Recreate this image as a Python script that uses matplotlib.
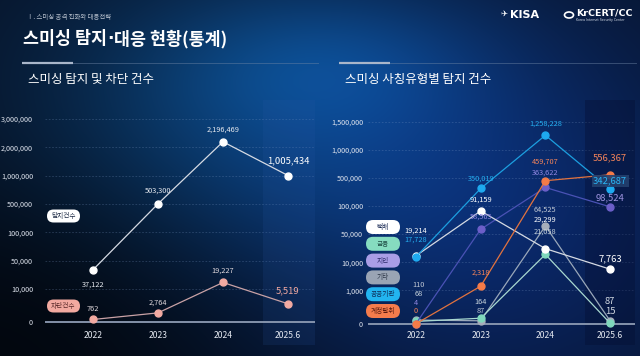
import numpy as np
import matplotlib
matplotlib.use('Agg')
import matplotlib.pyplot as plt
from matplotlib.patches import FancyBboxPatch

plt.rcParams['font.family'] = ['Noto Sans CJK KR', 'DejaVu Sans']

# ---------------- data ----------------
years = ['2022', '2023', '2024', '2025.6']

left_ticks = [0, 10000, 50000, 100000, 500000, 1000000, 2000000, 3000000]
left_series = ['탐지건수', '차단건수']
detect = [37122, 503300, 2196469, 1005434]
block = [762, 2764, 19227, 5519]

right_ticks = [0, 1000, 10000, 50000, 100000, 500000, 1000000, 1500000]
types = ['택배', '금융', '지인', '기타', '공공기관', '계정탈취']
parcel = [19214, 91159, 29299, 7763]
finance = [68, 164, 21058, 15]
acquaint = [4, 58565, 363622, 98524]
etc = [110, 87, 64525, 87]
public = [17728, 350019, 1258228, 342687]
account = [0, 2318, 459707, 556367]

W, H = 640, 356
fig = plt.figure(figsize=(W / 100, H / 100), dpi=100)


def fx(x):
    return x / W


def fy(y):
    return 1 - y / H


# ---------------- background ----------------
yy, xx = np.mgrid[0:H, 0:W].astype(float)
img = np.ones((H, W, 3)) * np.array([7, 19, 40], float)


def blob(cx, cy, sx, sy, col):
    g = np.exp(-(((xx - cx) / sx) ** 2 + ((yy - cy) / sy) ** 2) / 2)
    return g[..., None] * np.array(col, float)


img += blob(250, 130, 160, 110, [4, 42, 68])
img += blob(480, 210, 180, 150, [3, 18, 62])
img += blob(330, 60, 110, 50, [2, 22, 36])
dark = np.exp(-(((xx - 0) / 210) ** 2 + ((yy - 356) / 140) ** 2) / 2)
img *= (1 - 0.65 * dark[..., None])
img = np.clip(img / 255, 0, 1)

bg = fig.add_axes([0, 0, 1, 1], zorder=-10)
bg.imshow(img, extent=[0, W, 0, H], aspect='auto', origin='upper')
bg.set_xlim(0, W)
bg.set_ylim(0, H)
bg.axis('off')


# ---------------- piecewise scale ----------------
def piecewise(ticks, first_gap):
    t = np.array(ticks, float)
    u = np.concatenate([[0.0, first_gap], first_gap + np.arange(1, len(t) - 1)])

    def fwd(v):
        v = np.asarray(v, float)
        out = np.interp(v, t, u)
        out = np.where(v < t[0], u[0] + (v - t[0]) * (u[1] - u[0]) / (t[1] - t[0]), out)
        out = np.where(v > t[-1], u[-1] + (v - t[-1]) * (u[-1] - u[-2]) / (t[-1] - t[-2]), out)
        return out

    def inv(x):
        x = np.asarray(x, float)
        out = np.interp(x, u, t)
        out = np.where(x < u[0], t[0] + (x - u[0]) * (t[1] - t[0]) / (u[1] - u[0]), out)
        out = np.where(x > u[-1], t[-1] + (x - u[-1]) * (t[-1] - t[-2]) / (u[-1] - u[-2]), out)
        return out

    return fwd, inv, u


def make_axes(x0, x1, xfirst, xstep, ticks, first_gap, y0pix, ytoppix, ypad):
    top, bot = 100, 345
    ax = fig.add_axes([fx(x0), fy(bot), fx(x1) - fx(x0), (bot - top) / H], zorder=1)
    ax.set_facecolor('none')
    fwd, inv, u = piecewise(ticks, first_gap)
    ax.set_yscale('function', functions=(fwd, inv))
    ppu = (y0pix - ytoppix) / u[-1]
    ax.set_ylim(float(inv(-(bot - y0pix) / ppu)), float(inv(u[-1] + (ytoppix - top) / ppu)))
    ax.set_xlim((x0 - xfirst) / xstep, (x1 - xfirst) / xstep)
    ax.set_yticks(ticks)
    ax.set_yticklabels([f"{t:,}" for t in ticks])
    ax.set_xticks(range(len(years)))
    ax.set_xticklabels(years)
    ax.tick_params(axis='y', length=0, pad=ypad, labelsize=5.2, labelcolor='#dfe4ee')
    ax.tick_params(axis='x', length=0, pad=-9.8, labelsize=6.2, labelcolor='#e4e8f0')
    for s in ax.spines.values():
        s.set_visible(False)
    for t in ticks[1:]:
        ax.axhline(t, color='#7f9cc8', lw=0.6, ls=(0, (2, 2)), alpha=0.3, zorder=0)
    ax.axhline(0, color='#8e9cb4', lw=1.3, zorder=1)
    return ax


MS = 5

# ---------------- left chart ----------------
axl = make_axes(45, 315, 93, 65, left_ticks, 33 / 28.33, 322, 119, 8.6)
axl.axvspan(2.615, 3.5, color='#2a5aa8', alpha=0.15, lw=0, zorder=0)
x = np.arange(len(years))
axl.plot(x, detect, color='#d6dbe4', lw=0.9, marker='o', ms=MS, mfc='white', mec='white', zorder=3)
axl.plot(x, block, color='#c9a2a6', lw=0.9, marker='o', ms=MS, mfc='#f2aaa2', mec='#f2aaa2', zorder=3)

det_off = [-15, 13, 12, 15]
blk_off = [10, 10, 12, 13]
for i, v in enumerate(detect):
    big = i == len(years) - 1
    axl.annotate(f"{v:,}", (i, v), xytext=(0, det_off[i] * 0.72), textcoords='offset points',
                 ha='center', va='center', fontsize=6.8 if big else 5.3,
                 color='white' if big else '#e6e9ef', zorder=4)
for i, v in enumerate(block):
    big = i == len(years) - 1
    axl.annotate(f"{v:,}", (i, v), xytext=(0, blk_off[i] * 0.72), textcoords='offset points',
                 ha='center', va='center', fontsize=6.8 if big else 5.3,
                 color='#f2a9a0' if big else '#e0d8dc', zorder=4)

# ---------------- right chart ----------------
axr = make_axes(368, 635, 416, 64.7, right_ticks, 33.4 / 28.1, 323.7, 121.7, 3.6)
axr.axvspan(2.61, 3.5, color='#050d30', alpha=0.35, lw=0, zorder=0)

right_data = [parcel, finance, acquaint, etc, public, account]
marker_c = ['#ffffff', '#7fd8bc', '#6c5fc9', '#a6aebb', '#1eaaf0', '#f47b48']
line_c = ['#d5dae3', '#a8d8d0', '#4a52b5', '#9aa8ba', '#1c9fe0', '#e2733f']
text_c = ['#ffffff', '#c8d4dc', '#8f86e0', '#c0c8d4', '#25aef0', '#f4845a']
big_c = ['#ffffff', '#cfd6e0', '#9d93e0', '#cfd6e0', '#2ab4f4', '#f4845a']
offsets = [[25, 11, 29, 10],
           [27, 16, 23, 12],
           [21, 13, 15, 9],
           [35, 10, 16, 19],
           [17, 10, 12, 8],
           [13, 14, 19, 17]]
dxs = [[0, 0, 0, 0], [3, 0, 0, 0], [0, 0, 0, 0], [3, 0, 0, 0], [0, 0, 0, 0], [0, 0, 0, 0]]
order = [3, 1, 2, 0, 4, 5]
for k in order:
    vals = right_data[k]
    axr.plot(x, vals, color=line_c[k], lw=0.9, marker='o', ms=MS, mfc=marker_c[k],
             mec=marker_c[k], zorder=3)
for k in order:
    vals = right_data[k]
    for i, v in enumerate(vals):
        big = i == len(years) - 1
        bbox = None
        if big and k == 4:
            bbox = dict(boxstyle='square,pad=0.15', fc='#23406e', ec='none', alpha=0.9)
        axr.annotate(f"{v:,}", (i, v), xytext=(dxs[k][i] * 0.72, offsets[k][i] * 0.72),
                     textcoords='offset points', ha='center', va='center',
                     fontsize=6.8 if big else 5.3, color=big_c[k] if big else text_c[k],
                     bbox=bbox, zorder=4)

# ---------------- overlay: titles, pills ----------------
ov = fig.add_axes([0, 0, 1, 1], zorder=5)
ov.set_facecolor('none')
ov.set_xlim(0, W)
ov.set_ylim(0, H)
ov.axis('off')


def Y(y):
    return H - y


ov.text(27, Y(17), 'Ⅰ. 스미싱 공격 진화와 대응전략', fontsize=4.6, color='#b9c2cf', va='center', ha='left')
t1 = ov.text(23, Y(39), '스미싱 탐지', fontsize=12.5, fontweight='bold', color='white',
             va='center', ha='left')
t2 = ov.annotate('·', xy=(1, 0.5), xycoords=t1, xytext=(0.3, 0), textcoords='offset points',
                 fontsize=12.5, fontweight='bold', color='white', va='center', ha='left',
                 family=['DejaVu Sans'])
ov.annotate('대응 현황(통계)', xy=(1, 0.5), xycoords=t2, xytext=(0.3, 0), textcoords='offset points',
            fontsize=12.5, fontweight='bold', color='white', va='center', ha='left')
ov.plot([22, 318], [Y(63), Y(63)], color='#6f86a6', lw=0.7, alpha=0.45)
ov.plot([339, 636], [Y(63), Y(63)], color='#6f86a6', lw=0.7, alpha=0.45)
ov.plot([22, 73], [Y(63), Y(63)], color='#a9b6ca', lw=1.6, solid_capstyle='butt')
ov.plot([339, 390], [Y(63), Y(63)], color='#a9b6ca', lw=1.6, solid_capstyle='butt')
ov.text(28, Y(79), '스미싱 탐지 및 차단 건수', fontsize=9, color='white', va='center', ha='left')
ov.text(345, Y(79), '스미싱 사칭유형별 탐지 건수', fontsize=9, color='white', va='center', ha='left')

ov.text(510, Y(15), 'KISA', fontsize=8, fontweight='bold', color='white', va='center', ha='left',
        family=['DejaVu Sans'])
ov.text(507, Y(13), '✈', fontsize=6, color='white', va='center', ha='right', family=['DejaVu Sans'])
ov.text(576, Y(13), 'KrCERT/CC', fontsize=6.8, fontweight='bold', color='white', va='center',
        ha='left', family=['DejaVu Sans'])
ov.text(576, Y(20), 'Korea Internet Security Center', fontsize=2.3, color='#d0d8e4', va='center',
        ha='left', family=['DejaVu Sans'])
ov.add_patch(matplotlib.patches.Ellipse((569, Y(15)), 9, 6, fill=False, ec='white', lw=1.2))


def pill(x0, yc, w, h, fc, text, tc):
    ov.add_patch(FancyBboxPatch((x0, Y(yc) - h / 2), w, h,
                                boxstyle=f'round,pad=0,rounding_size={h / 2}',
                                fc=fc, ec='none'))
    ov.text(x0 + w / 2, Y(yc), text, fontsize=4.8, color=tc, ha='center', va='center')


pill(47, 216, 33, 13, '#ffffff', left_series[0], '#1d2b45')
pill(47, 306, 33, 13, '#f2a9a0', left_series[1], '#5a2a2a')

pill_c = ['#ffffff', '#86dcc0', '#a99de6', '#9aa4b4', '#22b4f0', '#f47c4c']
pill_t = ['#1b2b55', '#1e4a44', '#2c2a6a', '#2a3344', '#0f2a55', '#5a1a10']
for i, name in enumerate(types):
    pill(366, 227 + 16.8 * i, 34, 14, pill_c[i], name, pill_t[i])

fig.savefig('out.png', dpi=100)
